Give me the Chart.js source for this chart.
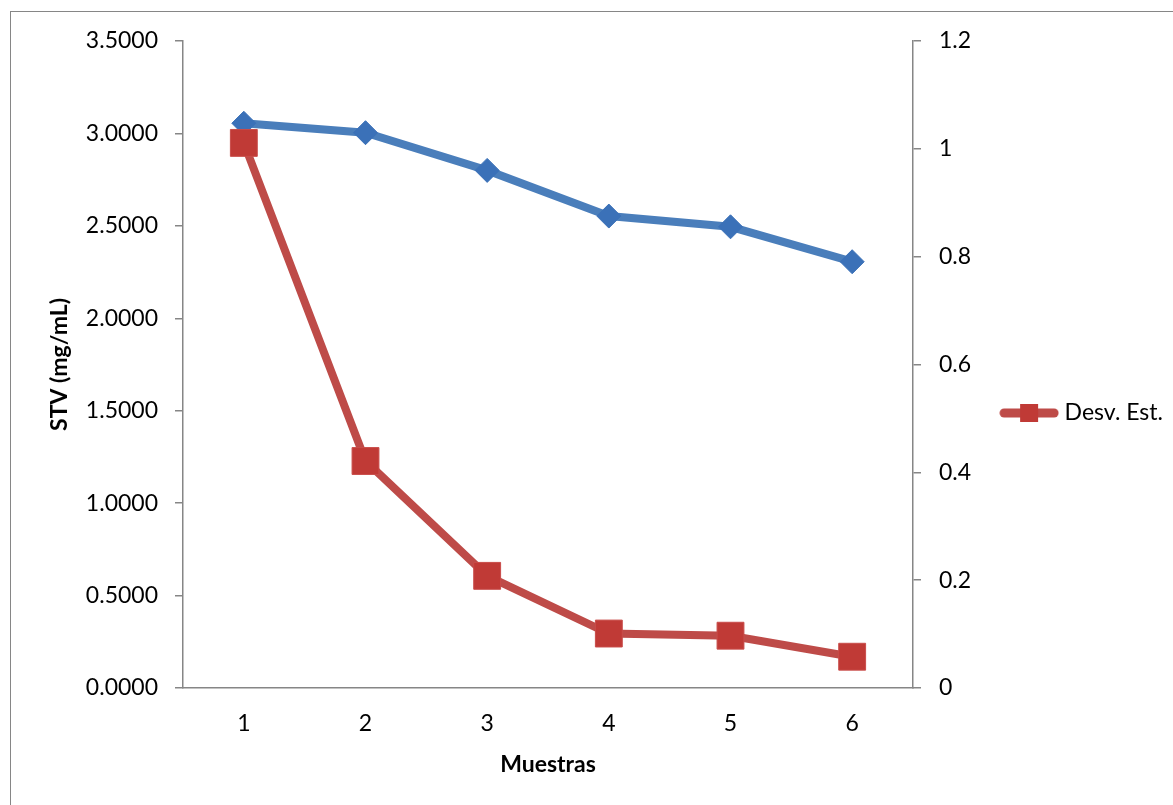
<!DOCTYPE html>
<html>
<head>
<meta charset="utf-8">
<script src="https://cdn.jsdelivr.net/npm/chart.js@4"></script>
<style>
    body { margin: 0; background: #fff; }
    #wrap { width: 1173px; height: 805px; }
</style>
</head>
<body>
<div id="wrap"><canvas id="stvChart" width="1173" height="805"></canvas></div>
<script>
// Data
const muestras = ['1', '2', '3', '4', '5', '6'];
const stv = [3.055, 3.004, 2.800, 2.553, 2.495, 2.306];
const desvEst = [1.011, 0.421, 0.208, 0.101, 0.097, 0.058];
const stvTicks = ['0.0000', '0.5000', '1.0000', '1.5000', '2.0000', '2.5000', '3.0000', '3.5000'];
const desvTicks = ['0', '0.2', '0.4', '0.6', '0.8', '1', '1.2'];

const FONT = 'Lato, "Liberation Sans", sans-serif';
const GREY = '#868686';
const BLUE_LINE = '#4a7ebb';
const BLUE_MARK = '#3b71b8';
const RED_LINE = '#be4b48';
const RED_MARK = '#c03a36';

// Legend swatch: thick line with a square marker in the middle
function legendSwatch() {
    const c = document.createElement('canvas');
    c.width = 60;
    c.height = 24;
    const g = c.getContext('2d');
    g.strokeStyle = RED_LINE;
    g.lineWidth = 9;
    g.lineCap = 'round';
    g.beginPath();
    g.moveTo(5, 12);
    g.lineTo(55, 12);
    g.stroke();
    g.fillStyle = RED_MARK;
    g.fillRect(21, 3, 18, 18);
    return c;
}

// Grey outer frame
const framePlugin = {
    id: 'frame',
    beforeDraw(chart) {
        const ctx = chart.ctx;
        ctx.save();
        ctx.fillStyle = '#fff';
        ctx.fillRect(0, 0, chart.width, chart.height);
        ctx.strokeStyle = GREY;
        ctx.lineWidth = 1;
        ctx.strokeRect(10.5, 11.5, 1300, 1000);
        ctx.restore();
    }
};

new Chart(document.getElementById('stvChart'), {
    type: 'line',
    data: {
        labels: muestras,
        datasets: [{
            label: 'STV (mg/mL)',
            data: stv,
            yAxisID: 'y',
            order: 1,
            borderColor: BLUE_LINE,
            borderWidth: 8,
            tension: 0,
            pointStyle: 'rectRot',
            pointRadius: 12,
            pointBackgroundColor: BLUE_MARK,
            pointBorderColor: BLUE_MARK,
            pointBorderWidth: 1
        }, {
            label: 'Desv. Est.',
            data: desvEst,
            yAxisID: 'y1',
            order: 0,
            borderColor: RED_LINE,
            borderWidth: 8,
            tension: 0,
            pointStyle: 'rect',
            pointRadius: 19,
            pointBackgroundColor: RED_MARK,
            pointBorderColor: '#c94c49',
            pointBorderWidth: 1
        }]
    },
    options: {
        responsive: false,
        animation: false,
        events: [],
        layout: { padding: { top: 21, right: 0, bottom: 0, left: 0 } },
        plugins: {
            tooltip: { enabled: false },
            // empty title keeps the plot top below the legend's centring band
            title: { display: true, text: '', padding: 0, font: { size: 10, lineHeight: 2 } },
            legend: {
                position: 'right',
                align: 'center',
                labels: {
                    usePointStyle: true,
                    pointStyle: legendSwatch(),
                    pointStyleWidth: 48,
                    color: '#000',
                    font: { family: FONT, size: 23 },
                    filter: item => item.datasetIndex === 1
                }
            }
        },
        scales: {
            x: {
                offset: true,
                grid: { display: false },
                border: { display: true, color: GREY, width: 1.5 },
                ticks: { color: '#000', padding: 14, font: { family: FONT, size: 23 } },
                title: {
                    display: true,
                    text: 'Muestras',
                    color: '#000',
                    padding: { top: 0, bottom: 27 },
                    font: { family: FONT, size: 23, weight: 'bold' }
                },
                afterFit: s => { s.height = 117; }
            },
            y: {
                position: 'left',
                min: 0,
                max: 3.5,
                ticks: {
                    stepSize: 0.5,
                    padding: 17,
                    color: '#000',
                    font: { family: FONT, size: 23 },
                    callback: (v, i) => stvTicks[i]
                },
                grid: { drawOnChartArea: false, tickLength: 8, color: GREY, lineWidth: 1.5 },
                border: { display: true, color: GREY, width: 1.5 },
                title: {
                    display: true,
                    text: 'STV (mg/mL)',
                    color: '#000',
                    padding: { top: 46, bottom: 0 },
                    font: { family: FONT, size: 23, weight: 'bold' }
                },
                afterFit: s => { s.width = 183; }
            },
            y1: {
                position: 'right',
                min: 0,
                max: 1.2,
                ticks: {
                    stepSize: 0.2,
                    padding: 18,
                    color: '#000',
                    font: { family: FONT, size: 23 },
                    callback: (v, i) => desvTicks[i]
                },
                grid: { drawOnChartArea: false, tickLength: 8, color: GREY, lineWidth: 1.5 },
                border: { display: true, color: GREY, width: 1.5 },
                afterFit: s => { s.width = s.chart.width - s.chart.legend.width - 913; }
            }
        }
    },
    plugins: [framePlugin]
});
</script>
</body>
</html>
